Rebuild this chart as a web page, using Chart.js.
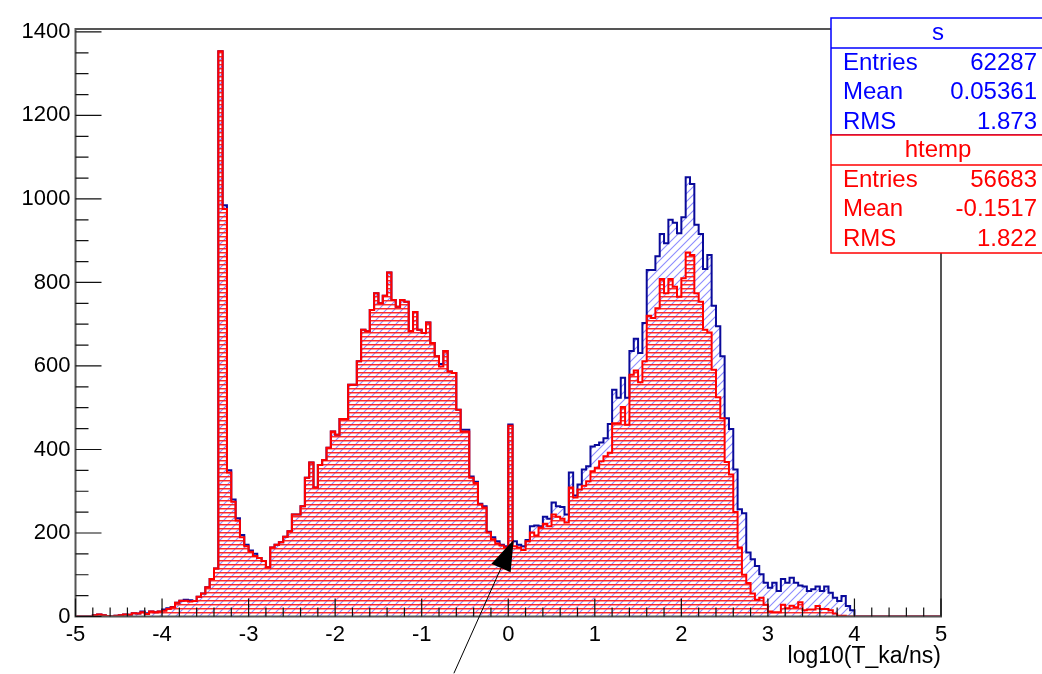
<!DOCTYPE html>
<html>
<head>
<meta charset="utf-8">
<script src="https://cdn.jsdelivr.net/npm/chart.js@4.4.0/dist/chart.umd.min.js"></script>
<style>
  html, body { margin: 0; padding: 0; background: #fff; }
  canvas { display: block; }
</style>
</head>
<body>
<canvas id="graph" width="1042" height="674"></canvas>
<script>
// 200 bins of 0.05 from -5 to 5
const binLow = -5;
const binWidth = 0.05;

// histogram "s"
const sCounts = [
  0,0,0,0,3,5,3,1,0,2,3,5,4,8,7,12,8,12,10,12,
  17,20,23,33,38,40,39,37,47,55,70,90,115,1354,985,350,280,235,195,172,
  158,150,140,133,118,165,172,178,191,204,244,244,264,332,369,309,363,375,404,443,
  435,473,473,555,555,611,687,683,734,774,750,768,824,758,742,758,754,684,729,687,
  679,704,655,623,605,636,587,583,495,447,447,335,323,270,264,203,190,180,172,168,
  460,180,172,168,183,216,218,216,239,234,273,264,262,244,345,290,316,352,360,407,
  411,417,427,461,543,524,572,524,636,665,631,703,830,830,863,916,894,950,943,918,
  956,1052,1036,938,916,832,866,744,695,623,475,449,352,257,247,153,137,121,101,81,
  69,81,61,90,81,93,81,74,72,61,65,72,61,72,57,45,37,49,25,15,
  0,0,0,0,0,0,0,0,0,0,0,0,0,0,0,0,0,0,0,0
];

// histogram "htemp"
const htempCounts = [
  0,0,0,0,3,5,3,1,0,2,3,5,4,8,7,10,6,12,10,12,
  14,18,22,33,38,38,36,37,47,55,70,90,115,1354,976,345,275,230,190,168,
  155,145,140,133,118,165,172,178,191,204,244,244,264,332,369,309,363,375,404,443,
  435,473,473,555,555,611,687,683,734,774,750,768,824,758,742,758,754,684,729,687,
  679,704,655,623,599,636,587,583,495,443,443,332,320,268,261,201,185,175,170,165,
  457,168,165,159,180,201,194,213,222,216,244,239,234,225,309,285,304,313,324,348,
  356,372,384,392,463,463,502,459,579,589,561,611,720,715,738,808,774,808,790,766,
  810,872,866,774,754,687,680,591,525,475,370,340,250,165,100,80,55,40,45,28,
  12,10,10,28,20,26,22,34,15,17,17,25,18,18,15,7,2,2,0,0,
  0,0,0,0,0,0,0,0,0,0,0,0,0,0,0,0,0,0,0,0
];

const xTicks = [-5,-4,-3,-2,-1,0,1,2,3,4,5];
const yTicks = [0,200,400,600,800,1000,1200,1400];

const stats = [
  {name: 's', color: '#0000ff', rows: [['Entries','62287'],['Mean','0.05361'],['RMS','1.873']]},
  {name: 'htemp', color: '#ff0000', rows: [['Entries','56683'],['Mean','-0.1517'],['RMS','1.822']]}
];

const font = '"Liberation Sans", Arial, sans-serif';

// step outline: one point per bin low edge, plus the last edge
function steps(counts) {
  const pts = counts.map((c, i) => ({x: binLow + i * binWidth, y: c}));
  pts.push({x: binLow + counts.length * binWidth, y: 0});
  return pts;
}

function hatch(kind) {
  const c = document.createElement('canvas');
  const g = c.getContext('2d');
  if (kind === 'diag') {
    c.width = 8; c.height = 8;
    g.strokeStyle = 'rgba(120,120,255,0.85)';
    g.lineWidth = 1.1;
    g.beginPath();
    g.moveTo(-1, 9); g.lineTo(9, -1);
    g.moveTo(-5, 5); g.lineTo(5, -5);
    g.moveTo(3, 13); g.lineTo(13, 3);
    g.stroke();
  } else {
    c.width = 4; c.height = 4;
    g.fillStyle = 'rgba(255,30,30,0.95)';
    g.fillRect(0, 0, 4, 1);
    g.fillStyle = 'rgba(255,30,30,0.45)';
    g.fillRect(0, 1, 4, 1);
  }
  return g.createPattern(c, 'repeat');
}

const rootAxes = {
  id: 'rootAxes',
  afterDatasetsDraw(chart) {
    const {ctx, chartArea: a, scales: {x, y}} = chart;
    ctx.save();
    ctx.strokeStyle = '#555';
    ctx.lineWidth = 2;
    ctx.strokeRect(a.left, a.top, a.right - a.left, a.bottom - a.top);
    ctx.lineWidth = 1.2;
    ctx.strokeStyle = '#111';
    ctx.beginPath();
    for (let k = 0; k <= 50; k++) {
      const px = x.getPixelForValue(-5 + k * 0.2);
      const len = k % 5 === 0 ? 18 : 9;
      ctx.moveTo(px, a.bottom);
      ctx.lineTo(px, a.bottom - len);
    }
    for (let k = 0; k <= 28; k++) {
      const py = y.getPixelForValue(k * 50);
      const len = k % 4 === 0 ? 26 : 13;
      ctx.moveTo(a.left, py);
      ctx.lineTo(a.left + len, py);
    }
    ctx.stroke();
    ctx.restore();
  },
  afterDraw(chart) {
    const {ctx, scales: {x, y}} = chart;
    ctx.save();
    // arrow
    const tx = x.getPixelForValue(0.063), ty = y.getPixelForValue(184);
    const sx = x.getPixelForValue(-0.628), sy = y.getPixelForValue(-136);
    const dx = tx - sx, dy = ty - sy, L = Math.hypot(dx, dy);
    const ux = dx / L, uy = dy / L;
    const bx = tx - ux * 31, by = ty - uy * 31;
    ctx.strokeStyle = '#000';
    ctx.lineWidth = 1;
    ctx.beginPath();
    ctx.moveTo(sx, sy);
    ctx.lineTo(bx, by);
    ctx.stroke();
    ctx.fillStyle = '#000';
    ctx.beginPath();
    ctx.moveTo(tx, ty);
    ctx.lineTo(bx - uy * 10.5, by + ux * 10.5);
    ctx.lineTo(bx + uy * 10.5, by - ux * 10.5);
    ctx.closePath();
    ctx.fill();

    // stat boxes
    const left = 831, right = 1046;
    let top = 18;
    const heights = [117, 118];
    stats.forEach((st, n) => {
      const h = heights[n];
      ctx.fillStyle = '#fff';
      ctx.fillRect(left, top, right - left, h);
      ctx.strokeStyle = st.color;
      ctx.lineWidth = 1.5;
      ctx.strokeRect(left, top, right - left, h);
      ctx.beginPath();
      ctx.moveTo(left, top + 30);
      ctx.lineTo(right, top + 30);
      ctx.stroke();
      ctx.fillStyle = st.color;
      ctx.font = '24px ' + font;
      ctx.textBaseline = 'middle';
      ctx.textAlign = 'center';
      ctx.fillText(st.name, 938, top + 15);
      st.rows.forEach((r, i) => {
        const ry = top + 45 + i * 29.5;
        ctx.textAlign = 'left';
        ctx.fillText(r[0], 843, ry);
        ctx.textAlign = 'right';
        ctx.fillText(r[1], 1037, ry);
      });
      top += h;
    });
    ctx.restore();
  }
};

const graph = document.getElementById('graph');
const chart = new Chart(graph, {
  type: 'line',
  data: {
    datasets: [
      {
        label: 'htemp',
        data: steps(htempCounts),
        stepped: 'before',
        borderColor: '#ff0000',
        borderWidth: 2,
        backgroundColor: hatch('horiz'),
        fill: 'origin',
        pointRadius: 0
      },
      {
        label: 's',
        data: steps(sCounts),
        stepped: 'before',
        borderColor: '#0a0a9a',
        borderWidth: 2,
        backgroundColor: hatch('diag'),
        fill: 'origin',
        pointRadius: 0
      }
    ]
  },
  options: {
    responsive: false,
    animation: false,
    devicePixelRatio: 1,
    layout: {padding: {top: 29, right: 101, left: 0, bottom: 0}},
    plugins: {legend: {display: false}, tooltip: {enabled: false}},
    scales: {
      x: {
        type: 'linear',
        min: -5,
        max: 5,
        afterBuildTicks: s => { s.ticks = xTicks.map(v => ({value: v})); },
        afterFit: s => { s.height = 57.5; },
        grid: {display: false, drawTicks: false},
        border: {display: false},
        ticks: {
          autoSkip: false, maxRotation: 0, padding: 5, color: '#000',
          font: {family: font, size: 22},
          callback: v => String(v)
        },
        title: {
          display: true, text: 'log10(T_ka/ns)', align: 'end', color: '#000',
          font: {family: font, size: 23},
          padding: {top: 0, bottom: 4}
        }
      },
      y: {
        type: 'linear',
        min: 0,
        max: 1407,
        afterBuildTicks: s => { s.ticks = yTicks.map(v => ({value: v})); },
        afterFit: s => { s.width = 75.5; },
        grid: {display: false, drawTicks: false},
        border: {display: false},
        ticks: {
          padding: 5, color: '#000',
          font: {family: font, size: 22},
          callback: v => String(v)
        }
      }
    }
  },
  plugins: [rootAxes]
});
</script>
</body>
</html>
